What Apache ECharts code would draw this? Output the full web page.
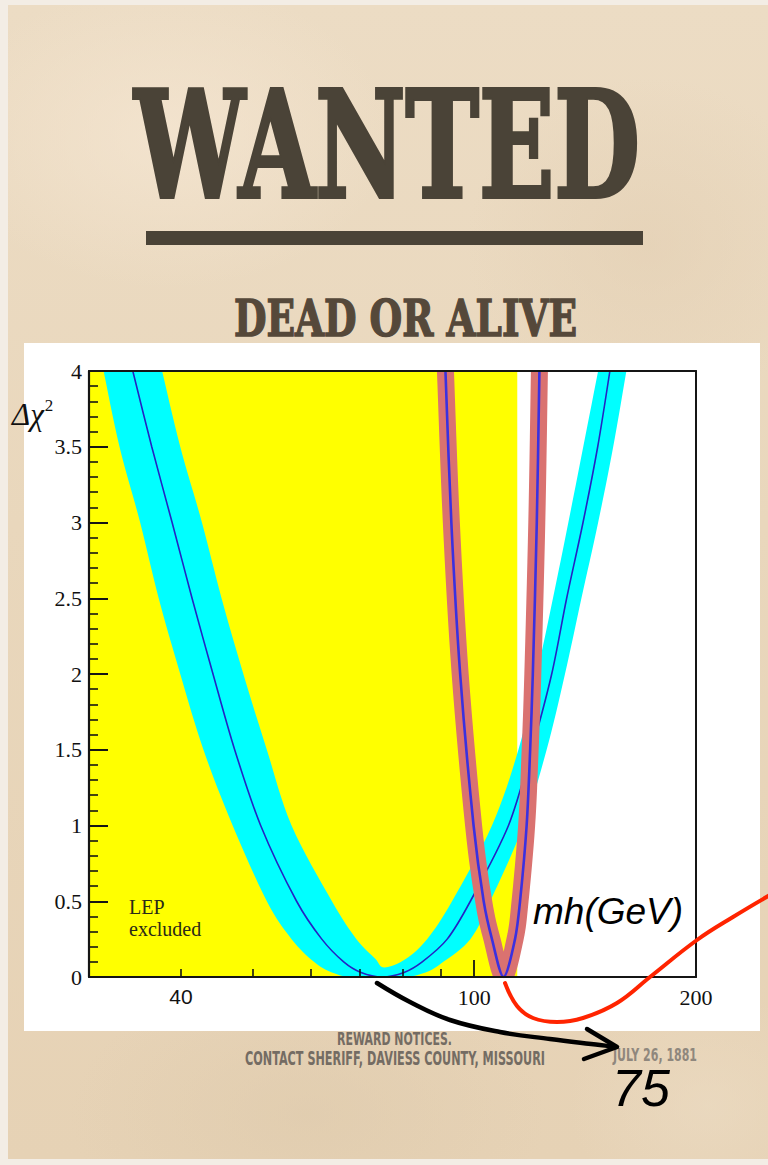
<!DOCTYPE html>
<html>
<head>
<meta charset="utf-8">
<script src="https://cdn.jsdelivr.net/npm/echarts@6/dist/echarts.min.js"></script>
<style>
  html, body { margin: 0; padding: 0; }
  body { width: 768px; height: 1165px; position: relative; overflow: hidden; background: #f3ede5; }
  #paper {
    position: absolute; left: 8px; top: 5px; right: 0; bottom: 6px;
    background:
      radial-gradient(ellipse 320px 220px at 160px 130px, rgba(245,230,210,0.75), rgba(245,230,210,0) 70%),
      radial-gradient(ellipse 260px 240px at 640px 240px, rgba(226,206,178,0.55), rgba(226,206,178,0) 70%),
      radial-gradient(ellipse 340px 200px at 300px 1110px, rgba(222,202,172,0.6), rgba(222,202,172,0) 70%),
      radial-gradient(ellipse 200px 160px at 700px 1100px, rgba(236,220,196,0.6), rgba(236,220,196,0) 70%),
      linear-gradient(180deg, #ecdcc4 0%, #e9d7bc 45%, #e6d2b5 100%);
  }
  #chart { position: absolute; left: 0; top: 0; width: 768px; height: 1165px; }
</style>
</head>
<body>
<div id="paper"></div>
<div id="chart"></div>
<script>
// Δχ² of the electroweak fit as a function of the Higgs mass mh (GeV)

// central Δχ² curve of the broad fit
const centreMh   = [34.4, 36.5, 38.9, 41.4, 44.2, 47.3, 51.3, 57.4, 62.1, 66.5, 70.2, 75.0, 80.3, 85.0, 91.9, 98.8, 111.3, 119.7, 127.4, 133.5, 140.5, 147.1, 152.8];
const centreChi2 = [4, 3.5, 3, 2.5, 2, 1.5, 1, 0.5, 0.25, 0.1, 0.03, 0, 0.03, 0.1, 0.25, 0.5, 1, 1.5, 2, 2.5, 3, 3.5, 4];

// theory-uncertainty band: lower and upper envelopes
const bandLowerMh   = [31.4, 33.0, 35.2, 37.3, 39.9, 42.9, 47.0, 52.3, 56.5, 60.6, 64.1, 68.4, 79.9, 85.9, 90.8, 98.8, 105.1, 116.6, 125.4, 132.8, 139.8, 147.3, 154.4, 160.9];
const bandLowerChi2 = [4, 3.5, 3, 2.5, 2, 1.5, 1, 0.5, 0.25, 0.1, 0.03, 0, 0, 0.03, 0.1, 0.25, 0.5, 1, 1.5, 2, 2.5, 3, 3.5, 4];
const bandUpperMh   = [37.7, 39.9, 42.7, 45.4, 48.6, 52.3, 56.5, 64.1, 69.2, 73.4, 75.5, 80.8, 86.3, 93.3, 105.7, 114.8, 121.6, 127.9, 134.2, 140.6, 147.3];
const bandUpperChi2 = [4, 3.5, 3, 2.5, 2, 1.5, 1, 0.5, 0.25, 0.12, 0.063, 0.12, 0.25, 0.5, 1, 1.5, 2, 2.5, 3, 3.5, 4];

// narrow Δχ² curve
const narrowMh   = [91.4, 93.1, 95.7, 99.8, 103.0, 105.7, 109.6, 113.6, 115.4, 117.8, 119.1, 120.1, 121.6, 122.6];
const narrowChi2 = [4, 3, 2, 1, 0.5, 0.25, 0, 0.25, 0.5, 1, 1.5, 2, 3, 4];

// excluded region and axes
const lepLimitMh   = 114.4;
const massRange    = [30, 200];
const chi2Range    = [0, 4];
const xMinorTicks  = [40, 50, 60, 70, 80, 90];
const xMajorTicks  = [100];
const xTickLabels  = [40, 100, 200];

const lg = Math.log10;
const toPairs = (mh, chi) => mh.map((m, i) => [lg(m), chi[i]]);

const centrePts = toPairs(centreMh, centreChi2);
const lowerPts  = toPairs(bandLowerMh, bandLowerChi2);
const upperPts  = toPairs(bandUpperMh, bandUpperChi2);
const narrowPts = toPairs(narrowMh, narrowChi2);

// Catmull-Rom smoothing of an open pixel path (drawing only)
function smoothPath(pts, steps) {
  const out = [];
  for (let i = 0; i < pts.length - 1; i++) {
    const p0 = pts[Math.max(i - 1, 0)], p1 = pts[i], p2 = pts[i + 1], p3 = pts[Math.min(i + 2, pts.length - 1)];
    for (let s = 0; s < steps; s++) {
      const t = s / steps, t2 = t * t, t3 = t2 * t;
      const f = (a, b, c, d) => 0.5 * (2 * b + (-a + c) * t + (2 * a - 5 * b + 4 * c - d) * t2 + (-a + 3 * b - 3 * c + d) * t3);
      out.push([f(p0[0], p1[0], p2[0], p3[0]), f(p0[1], p1[1], p2[1], p3[1])]);
    }
  }
  out.push(pts[pts.length - 1]);
  return out;
}

// text measurement, used to fit poster lettering to its width
const mctx = document.createElement('canvas').getContext('2d');
function textWidth(text, font) { mctx.font = font; return mctx.measureText(text).width; }

function posterText(text, cx, cy, size, family, weight, color, width, strokeW) {
  const font = weight + ' ' + size + 'px "' + family + '"';
  return {
    type: 'text', x: cx, y: cy, z: 50,
    scaleX: width / textWidth(text, font),
    style: {
      text: text, fontSize: size, fontFamily: family, fontWeight: weight,
      fill: color, stroke: strokeW ? color : null, lineWidth: strokeW || 0,
      textAlign: 'center', textVerticalAlign: 'middle'
    }
  };
}

function plainText(text, x, y, size, family, italic, color) {
  return {
    type: 'text', z: 50, x: x, y: y,
    style: { text: text, fontSize: size, fontFamily: family, fontStyle: italic ? 'italic' : 'normal',
             fill: color, textAlign: 'left', textVerticalAlign: 'middle' }
  };
}

const chart = echarts.init(document.getElementById('chart'), null, { renderer: 'svg', width: 768, height: 1165 });

const xAxisBase = {
  type: 'value', gridIndex: 0,
  min: lg(massRange[0]), max: lg(massRange[1]),
  splitLine: { show: false }, z: 10
};

const chiFontSize = 31;
const chiWidth = textWidth('Δχ', 'italic ' + chiFontSize + 'px "Liberation Serif"');

const option = {
  animation: false,
  backgroundColor: 'transparent',
  grid: { left: 89, top: 371, width: 607, height: 606, outerBoundsMode: 'none', containLabel: false },
  xAxis: [
    Object.assign({}, xAxisBase, {
      position: 'bottom',
      axisLine: { show: true, lineStyle: { color: '#151515', width: 2 } },
      axisTick: { show: true, inside: true, length: 8, lineStyle: { color: '#151515', width: 1.6 },
                  customValues: xMinorTicks.map(lg) },
      axisLabel: {
        show: true, margin: 9,
        customValues: xTickLabels.map(lg),
        formatter: v => {
          const m = Math.round(Math.pow(10, v));
          return m === 40 ? '{s|' + m + '}' : '{r|' + m + '}';
        },
        rich: {
          s: { fontFamily: 'Liberation Sans', fontSize: 21, color: '#111' },
          r: { fontFamily: 'Liberation Serif', fontSize: 22, color: '#111' }
        }
      }
    }),
    Object.assign({}, xAxisBase, {
      position: 'bottom',
      axisLine: { show: false },
      axisTick: { show: true, inside: true, length: 17, lineStyle: { color: '#151515', width: 1.8 },
                  customValues: xMajorTicks.map(lg) },
      axisLabel: { show: false }
    }),
    Object.assign({}, xAxisBase, {
      position: 'top',
      axisLine: { show: true, lineStyle: { color: '#151515', width: 2 } },
      axisTick: { show: false }, axisLabel: { show: false }
    })
  ],
  yAxis: [
    {
      type: 'value', min: chi2Range[0], max: chi2Range[1], interval: 0.5,
      position: 'left', z: 10,
      splitLine: { show: false },
      axisLine: { show: true, lineStyle: { color: '#151515', width: 2.2 } },
      axisTick: { show: true, inside: true, length: 19, lineStyle: { color: '#151515', width: 2 } },
      minorTick: { show: true, splitNumber: 5, length: 9, lineStyle: { color: '#151515', width: 1.6 } },
      axisLabel: {
        margin: 7, color: '#111', fontFamily: 'Liberation Serif', fontSize: 22,
        formatter: v => String(v)
      }
    },
    {
      type: 'value', min: chi2Range[0], max: chi2Range[1],
      position: 'right', z: 10,
      splitLine: { show: false },
      axisLine: { show: true, lineStyle: { color: '#151515', width: 2 } },
      axisTick: { show: false }, axisLabel: { show: false }
    }
  ],
  series: [
    {
      // LEP excluded mass region
      type: 'custom', z: 1, silent: true,
      data: [[lg(massRange[0]), lg(lepLimitMh), chi2Range[0], chi2Range[1]]],
      renderItem: (params, api) => {
        const a = api.coord([api.value(0), api.value(3)]);
        const b = api.coord([api.value(1), api.value(2)]);
        return { type: 'rect', shape: { x: a[0], y: a[1], width: b[0] - a[0], height: b[1] - a[1] },
                 style: { fill: '#ffff00' } };
      }
    },
    {
      // uncertainty band between the two envelopes
      type: 'custom', z: 2, silent: true,
      data: [[lg(massRange[0]), 0]],
      renderItem: (params, api) => {
        const cs = params.coordSys;
        const lower = smoothPath(lowerPts.map(p => api.coord(p)), 8);
        const upper = smoothPath(upperPts.map(p => api.coord(p)), 8);
        return {
          type: 'polygon', shape: { points: lower.concat(upper.reverse()) },
          style: { fill: '#00ffff', stroke: null },
          clipPath: { type: 'rect', shape: { x: cs.x, y: cs.y, width: cs.width, height: cs.height } }
        };
      }
    },
    {
      type: 'line', z: 3, silent: true,
      data: centrePts, showSymbol: false, smooth: 0.3,
      lineStyle: { color: '#2424c4', width: 1.6 }
    },
    {
      // wide salmon stroke, clipped to the frame
      type: 'custom', z: 4, silent: true,
      data: [[lg(massRange[0]), 0]],
      renderItem: (params, api) => {
        const cs = params.coordSys;
        return {
          type: 'polyline',
          shape: { points: smoothPath(narrowPts.map(p => api.coord(p)), 8) },
          style: { stroke: '#da7270', lineWidth: 17, fill: null, lineJoin: 'round' },
          clipPath: { type: 'rect', shape: { x: cs.x, y: cs.y, width: cs.width, height: cs.height } }
        };
      }
    },
    {
      type: 'line', z: 5, silent: true,
      data: narrowPts, showSymbol: false, smooth: 0.3,
      lineStyle: { color: '#3b30e0', width: 2.6 }
    }
  ],
  graphic: [
    // white panel behind the plot
    { type: 'rect', z: -5, silent: true, shape: { x: 24, y: 343, width: 736, height: 688 }, style: { fill: '#ffffff' } },

    // poster heading
    posterText('WANTED', 387, 145, 148, 'DejaVu Serif', 'bold', '#4a4337', 506, 4),
    { type: 'rect', z: 50, shape: { x: 146, y: 231, width: 497, height: 14 }, style: { fill: '#4a4337' } },
    posterText('DEAD OR ALIVE', 405.5, 318, 51, 'DejaVu Serif', 'bold', '#55483a', 343, 1.5),

    // poster footer
    posterText('REWARD NOTICES.', 394.5, 1039, 18, 'DejaVu Sans', 'bold', '#746c63', 115),
    posterText('CONTACT SHERIFF, DAVIESS COUNTY, MISSOURI', 395, 1058.5, 20, 'DejaVu Sans', 'bold', '#746c63', 300),
    posterText('JULY 26, 1881', 655, 1055.5, 17, 'DejaVu Sans', 'bold', '#8f877d', 84),

    // title of the vertical axis
    plainText('Δχ', 12, 414, chiFontSize, 'Liberation Serif', true, '#111'),
    plainText('2', 12 + chiWidth + 1, 405, 17, 'Liberation Serif', false, '#111'),

    // in-plot labels
    plainText('LEP', 129, 907, 20, 'Liberation Serif', false, '#2a2a18'),
    plainText('excluded', 129, 929, 20, 'Liberation Serif', false, '#2a2a18'),
    plainText('mh(GeV)', 533, 911, 37, 'Liberation Sans', true, '#000'),

    // hand-drawn annotations
    { type: 'polyline', z: 60, silent: true,
      shape: { points: [[505, 983], [517, 1006], [533, 1018], [557, 1022], [583, 1018], [617, 1003], [650, 977], [697, 940], [733, 917], [770, 895]], smooth: 0.4 },
      style: { stroke: '#ff2400', lineWidth: 4, fill: null, lineCap: 'round' } },
    { type: 'polyline', z: 60, silent: true,
      shape: { points: [[377, 983], [410, 1002], [450, 1020], [500, 1032], [550, 1039], [600, 1045], [616, 1047]], smooth: 0.4 },
      style: { stroke: '#000', lineWidth: 4.5, fill: null, lineCap: 'round' } },
    { type: 'polyline', z: 60, silent: true,
      shape: { points: [[587, 1029], [617, 1047], [584, 1059]] },
      style: { stroke: '#000', lineWidth: 4.5, fill: null, lineCap: 'round', lineJoin: 'round' } },
    plainText('75', 612, 1088, 52, 'Liberation Sans', true, '#000')
  ]
};

chart.setOption(option);
</script>
</body>
</html>
